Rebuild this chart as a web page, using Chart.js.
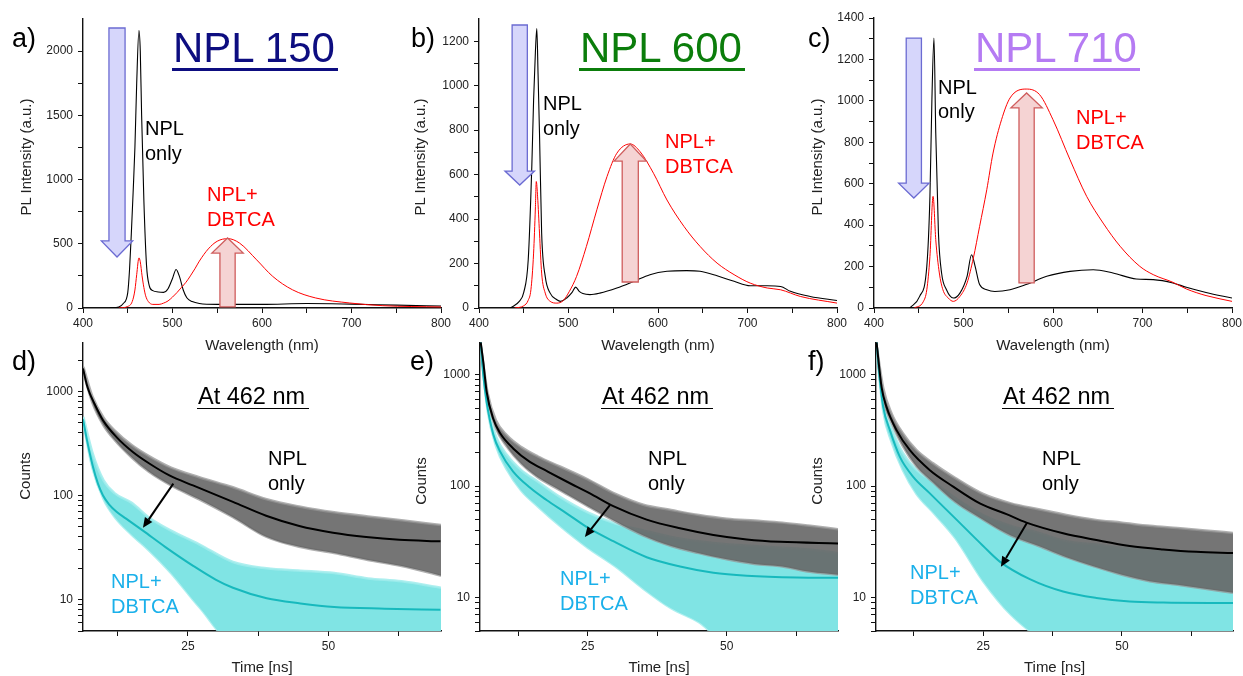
<!DOCTYPE html>
<html>
<head>
<meta charset="utf-8">
<title>NPL / DBTCA photoluminescence</title>
<script src="https://cdn.jsdelivr.net/npm/chart.js@4.4.1/dist/chart.umd.min.js"></script>
<style>
  html, body { margin: 0; padding: 0; background: #fff; }
  body { width: 1243px; height: 676px; position: relative; overflow: hidden;
         font-family: "Liberation Sans", Arial, sans-serif; }
  canvas { position: absolute; }
  .txt { position: absolute; white-space: nowrap; line-height: 1; }
  .vtxt { position: absolute; white-space: nowrap; line-height: 1; font-size: 15px; color: #222;
          transform: translate(-50%, -50%) rotate(-90deg); }
  .rule { position: absolute; }
</style>
</head>
<body>
<script>
// --- PL spectra (wavelength nm / intensity a.u.) ---
const aNplWl = [430, 440, 445, 450, 452, 454, 456, 458, 460, 462.5, 464, 465.5, 468, 471, 474, 478, 484, 490, 495, 500, 504, 508, 512, 516, 522, 530, 550, 600, 650, 700, 750, 800];
const aNplPl = [0, 8, 35, 120, 300, 580, 900, 1250, 1750, 2160, 2000, 1500, 840, 330, 175, 135, 125, 122, 150, 230, 300, 240, 140, 80, 50, 35, 28, 28, 35, 30, 22, 15];
const aMixWl = [440, 450, 455, 458, 460, 462.5, 464, 466, 468, 470, 473, 478, 485, 490, 495, 500, 505, 510, 515, 520, 525, 530, 540, 550, 562, 575, 594, 612, 634, 660, 698, 735, 800];
const aMixPl = [0, 12, 50, 140, 260, 390, 360, 250, 160, 95, 50, 28, 28, 38, 55, 85, 120, 160, 200, 250, 305, 365, 460, 520, 540, 505, 375, 246, 142, 78, 39, 18, 8];

const bNplWl = [435, 445, 450, 455, 459, 461, 463, 464.6, 466, 467.6, 470, 474, 479.5, 487, 491, 498, 504, 508, 512, 516, 524, 535, 554, 573, 591, 610, 632, 647, 666, 685, 703, 722, 737, 748, 770, 800];
const bNplPl = [0, 30, 70, 217, 636, 935, 1150, 1257, 1050, 786, 337, 142, 67, 37, 30, 45, 70, 94, 75, 65, 60, 67, 90, 120, 150, 165, 168, 165, 145, 120, 100, 100, 97, 75, 52, 34];
const bMixWl = [440, 450, 455, 458, 461, 463, 464, 465.5, 467.6, 470, 474, 479.5, 487, 494, 501, 509, 520, 531.7, 543, 554, 569, 580, 595, 610, 629, 647, 666, 685, 703, 722, 737, 759, 800];
const bMixPl = [0, 10, 35, 82, 247, 450, 569, 500, 337, 157, 67, 30, 22, 33, 75, 142, 277, 442, 591, 696, 738, 703, 606, 486, 367, 277, 202, 150, 112, 90, 82, 52, 22];

const cNplWl = [440, 451, 459, 462.5, 464.7, 467, 469, 472, 475.5, 481, 488.6, 496, 504, 509, 513, 518, 526, 535, 552, 570, 593, 619, 645, 667, 693, 712, 734, 749, 771, 800];
const cNplPl = [0, 56, 201, 539, 1006, 1303, 845, 362, 169, 88, 48, 72, 153, 257, 201, 113, 88, 80, 88, 113, 153, 177, 185, 169, 140, 137, 121, 100, 75, 48];
const cMixWl = [445, 455, 459, 462.5, 466, 469, 473, 477, 483, 488.6, 496, 504, 511, 518, 526, 533, 542.5, 552, 570, 585, 600, 619, 637.6, 656, 675, 697, 712, 734, 749, 771, 800];
const cMixPl = [0, 30, 88, 249, 539, 330, 169, 88, 48, 32, 56, 121, 241, 394, 571, 748, 909, 1014, 1057, 1030, 909, 716, 539, 410, 298, 201, 161, 124, 92, 60, 32];

// --- decay traces at 462 nm (time ns / counts): fits plus noise envelope ---
const dNplT = [6.34, 7.05, 7.5, 8.1, 9.9, 12.3, 15.2, 18.2, 21.7, 25.9, 33.0, 38.9, 44.8, 50.8, 56.7, 62.6, 69.9];
const dNplFit = [1660, 1140, 970, 820, 527, 364, 262, 202, 156, 125, 87, 64, 51, 44, 40, 37.6, 36.3];
const dMixT = [6.34, 7.0, 8.1, 9.0, 9.9, 11.0, 12.3, 14.0, 17.0, 21.0, 26.0, 30.0, 33.0, 39.0, 45.0, 51.0, 60.0, 69.9];
const dMixFit = [540, 350, 190, 130, 100, 82, 70, 60, 46, 32, 21, 15.5, 13, 10.3, 9.2, 8.5, 8.2, 8.0];
const dBandT = [6.4, 8, 10, 12, 15, 18, 22, 27, 33, 39, 45, 51, 57, 63, 70];
const dNplHi = [1720, 900, 560, 420, 305, 240, 185, 150, 120, 92, 78, 69, 63, 58, 52];
const dNplLo = [1520, 780, 470, 340, 232, 170, 125, 92, 62, 40, 32, 28, 24, 21, 17];
const dMixHi = [570, 260, 140, 105, 85, 62, 46, 34, 23, 20, 19, 18, 16, 15, 13];
const dMixLo = [490, 185, 92, 62, 42, 30, 18, 8.5, 4, 4, 4, 4, 4, 4, 4];

const eNplT = [5.76, 6.24, 6.84, 8.04, 9.24, 11.6, 14.6, 17.6, 21.2, 25.4, 29.6, 35.6, 41.6, 47.6, 53.6, 59.6, 70];
const eNplFit = [1960, 1290, 700, 400, 300, 218, 165, 137, 110, 86, 66, 50, 41.8, 36.4, 33.2, 31.6, 30.6];
const eMixT = [5.76, 6.24, 6.84, 8.04, 9.24, 11.6, 14.6, 17.6, 21.2, 24.8, 29.6, 35.6, 41.6, 47.6, 53.6, 62.6, 70];
const eMixFit = [1960, 980, 565, 290, 205, 135, 97, 75, 57, 43, 32, 23, 19, 16.7, 15.7, 15.1, 15];
const eBandT = [5.7, 7, 8.5, 10.5, 13, 16, 20, 25, 30, 35, 40, 45, 50, 55, 60, 65, 70];
const eNplHi = [2000, 690, 390, 285, 225, 185, 150, 115, 85, 68, 61, 55, 51, 49, 47, 44, 41];
const eNplLo = [1900, 610, 330, 225, 160, 120, 92, 66, 48, 36, 29, 25, 22, 20, 19, 17, 16];
const eMixHi = [2000, 540, 280, 190, 140, 110, 80, 58, 46, 40, 35, 32, 30, 29, 28, 27, 25];
const eMixLo = [1900, 480, 230, 140, 92, 66, 44, 28, 19, 12, 8, 6, 4, 4, 4, 4, 4];

const fNplT = [5.8, 6.7, 7.6, 9.4, 11.8, 15.4, 19.6, 24.4, 29.2, 32.8, 39.4, 45.4, 51.4, 57.4, 63.4, 70];
const fNplFit = [1960, 775, 513, 318, 210, 139, 99, 70, 56, 47, 37.7, 32.8, 29, 27, 25.7, 25.1];
const fMixT = [5.8, 6.4, 7.0, 8.2, 10.0, 12.4, 15.4, 20.2, 25.0, 28.0, 33.4, 39.4, 45.4, 51.4, 57.4, 70];
const fMixFit = [1960, 890, 513, 318, 183, 121, 86, 50, 29, 21, 14.6, 11.3, 9.9, 9.2, 9.0, 8.9];
const fBandT = [5.7, 7, 8.5, 10.5, 13, 16, 20, 25, 30, 35, 40, 45, 50, 55, 60, 65, 70];
const fNplHi = [2000, 760, 450, 300, 210, 160, 118, 85, 70, 62, 55, 50, 47, 44, 42, 40, 38];
const fNplLo = [1900, 610, 370, 230, 150, 108, 72, 50, 36, 29, 23, 19, 16, 14, 13, 12, 11];
const fMixHi = [2000, 560, 330, 200, 140, 110, 78, 55, 44, 38, 32, 30, 28, 27, 26, 25, 24];
const fMixLo = [1900, 470, 250, 140, 85, 58, 34, 14, 7, 4.5, 4, 4, 4, 4, 4, 4, 4];

// --- ticks ---
const wlTicks = [400, 450, 500, 550, 600, 650, 700, 750, 800];
const wlLabels = [400, 500, 600, 700, 800];
const plTicksA = [0, 250, 500, 750, 1000, 1250, 1500, 1750, 2000];
const plLabelsA = [0, 500, 1000, 1500, 2000];
const plTicksB = [0, 100, 200, 300, 400, 500, 600, 700, 800, 900, 1000, 1100, 1200];
const plLabelsB = [0, 200, 400, 600, 800, 1000, 1200];
const plTicksC = [0, 100, 200, 300, 400, 500, 600, 700, 800, 900, 1000, 1100, 1200, 1300, 1400];
const plLabelsC = [0, 200, 400, 600, 800, 1000, 1200, 1400];
const timeTicks = [12.5, 25, 37.5, 50, 62.5];
const timeLabels = [25, 50];
const countTicks = [5, 6, 7, 8, 9, 10, 20, 30, 40, 50, 60, 70, 80, 90, 100, 200, 300, 400, 500, 600, 700, 800, 900, 1000, 2000];
const countLabels = [10, 100, 1000];

Chart.defaults.font.family = '"Liberation Sans", Arial, sans-serif';

const AXIS_W = 72;
const RIGHT_PAD = 24;
const INK = '#111';

const pts = (xs, ys) => xs.map((x, i) => ({ x, y: ys[i] }));

function curve(xs, ys, color, width) {
    return { data: pts(xs, ys), borderColor: color, borderWidth: width, fill: false,
             pointRadius: 0, cubicInterpolationMode: 'monotone' };
}

// noise envelope: filled to the next dataset, soft edge drawn as a wide light stroke
function bandTop(xs, ys, color, edge) {
    return { data: pts(xs, ys), borderWidth: 2.5, borderColor: edge, pointRadius: 0, fill: '+1',
             backgroundColor: color, cubicInterpolationMode: 'monotone' };
}

function bandBottom(xs, ys, edge) {
    return { data: pts(xs, ys), borderWidth: 2.5, borderColor: edge, pointRadius: 0, fill: false,
             cubicInterpolationMode: 'monotone' };
}

// --- annotation arrows, placed in data units ---
function blockArrows(items) {
    return {
        id: 'blockArrows',
        afterDatasetsDraw(chart) {
            const { ctx, scales: { x, y } } = chart;
            items.forEach(a => {
                const outline = [
                    [a.x - a.shaft, a.tail], [a.x + a.shaft, a.tail], [a.x + a.shaft, a.neck],
                    [a.x + a.head, a.neck], [a.x, a.tip], [a.x - a.head, a.neck], [a.x - a.shaft, a.neck]
                ];
                ctx.save();
                ctx.beginPath();
                outline.forEach(([vx, vy], i) => {
                    const px = x.getPixelForValue(vx), py = y.getPixelForValue(vy);
                    i ? ctx.lineTo(px, py) : ctx.moveTo(px, py);
                });
                ctx.closePath();
                ctx.fillStyle = a.fill;
                ctx.fill();
                ctx.lineWidth = 1.3;
                ctx.strokeStyle = a.stroke;
                ctx.stroke();
                ctx.restore();
            });
        }
    };
}

function lineArrow(from, to) {
    return {
        id: 'lineArrow',
        afterDatasetsDraw(chart) {
            const { ctx, scales: { x, y } } = chart;
            const x0 = x.getPixelForValue(from[0]), y0 = y.getPixelForValue(from[1]);
            const x1 = x.getPixelForValue(to[0]), y1 = y.getPixelForValue(to[1]);
            const ang = Math.atan2(y1 - y0, x1 - x0);
            const len = 10, half = 4.5;
            const bx = x1 - len * Math.cos(ang), by = y1 - len * Math.sin(ang);
            ctx.save();
            ctx.strokeStyle = '#000';
            ctx.fillStyle = '#000';
            ctx.lineWidth = 2;
            ctx.beginPath();
            ctx.moveTo(x0, y0);
            ctx.lineTo(bx, by);
            ctx.stroke();
            ctx.beginPath();
            ctx.moveTo(x1, y1);
            ctx.lineTo(bx - half * Math.sin(ang), by + half * Math.cos(ang));
            ctx.lineTo(bx + half * Math.sin(ang), by - half * Math.cos(ang));
            ctx.closePath();
            ctx.fill();
            ctx.restore();
        }
    };
}

function addCanvas(left, top, width, height) {
    const c = document.createElement('canvas');
    c.width = width;
    c.height = height;
    c.style.left = left + 'px';
    c.style.top = top + 'px';
    c.style.width = width + 'px';
    c.style.height = height + 'px';
    document.body.appendChild(c);
    return c;
}

function axis(p, which) {
    const isX = which === 'x';
    const min = isX ? p.xMin : p.yMin, max = isX ? p.xMax : p.yMax;
    const ticks = (isX ? p.xTicks : p.yTicks).filter(v => v >= min && v <= max);
    const labels = isX ? p.xLabels : p.yLabels;
    const cfg = {
        type: isX ? 'linear' : (p.yType || 'linear'),
        min, max,
        afterBuildTicks: s => { s.ticks = ticks.map(v => ({ value: v })); },
        ticks: {
            autoSkip: false, maxRotation: 0, padding: isX ? 3 : 5,
            color: '#222', font: { size: 12 },
            callback: v => labels.includes(v) ? String(v) : ''
        },
        grid: { drawOnChartArea: false, tickLength: 5, color: INK, tickWidth: 1 },
        border: { color: INK, width: 1.4 }
    };
    if (isX) {
        cfg.afterFit = s => { s.height = p.canvasBottom - p.bottom; };
        cfg.title = { display: true, text: p.xTitle, color: '#222', font: { size: 15 },
                      padding: { top: 0, bottom: p.titlePad } };
    } else {
        cfg.afterFit = s => { s.width = AXIS_W; };
    }
    return cfg;
}

function drawPanel(p) {
    const canvas = addCanvas(p.left - AXIS_W, p.canvasTop,
        p.right - p.left + AXIS_W + RIGHT_PAD, p.canvasBottom - p.canvasTop);
    return new Chart(canvas, {
        type: 'line',
        data: { datasets: p.datasets },
        options: {
            responsive: false,
            animation: false,
            devicePixelRatio: 1,
            layout: { autoPadding: false,
                      padding: { left: 0, right: RIGHT_PAD, top: p.top - p.canvasTop, bottom: 0 } },
            plugins: { legend: { display: false }, tooltip: { enabled: false } },
            scales: { x: axis(p, 'x'), y: axis(p, 'y') }
        },
        plugins: p.plugins
    });
}

// --- top row: PL spectra ---
const BLUE_FILL = '#d6d6fb', BLUE_EDGE = '#6b6bd2';
const PINK_FILL = '#f5d3d3', PINK_EDGE = '#cf5d5d';

const spectrum = {
    xMin: 400, xMax: 800, xTicks: wlTicks, xLabels: wlLabels, xTitle: 'Wavelength (nm)',
    canvasTop: 0, canvasBottom: 360, bottom: 308, titlePad: 5
};

drawPanel({ ...spectrum, left: 83, right: 441, top: 19,
    yMin: 0, yMax: 2250, yTicks: plTicksA, yLabels: plLabelsA,
    datasets: [curve(aMixWl, aMixPl, '#ff0000', 1), curve(aNplWl, aNplPl, '#000', 1.1)],
    plugins: [blockArrows([
        { x: 438, shaft: 9, head: 17.5, tail: 2180, neck: 522, tip: 397, fill: BLUE_FILL, stroke: BLUE_EDGE },
        { x: 561.5, shaft: 8.5, head: 17.5, tail: 8, neck: 428, tip: 545, fill: PINK_FILL, stroke: PINK_EDGE }
    ])]
});

drawPanel({ ...spectrum, left: 479, right: 837, top: 19,
    yMin: 0, yMax: 1300, yTicks: plTicksB, yLabels: plLabelsB,
    datasets: [curve(bMixWl, bMixPl, '#ff0000', 1), curve(bNplWl, bNplPl, '#000', 1.1)],
    plugins: [blockArrows([
        { x: 445.5, shaft: 8.5, head: 16.5, tail: 1273, neck: 616, tip: 553, fill: BLUE_FILL, stroke: BLUE_EDGE },
        { x: 569, shaft: 9, head: 18, tail: 117, neck: 661, tip: 738, fill: PINK_FILL, stroke: PINK_EDGE }
    ])]
});

drawPanel({ ...spectrum, left: 874, right: 1232, top: 18,
    yMin: 0, yMax: 1400, yTicks: plTicksC, yLabels: plLabelsC,
    datasets: [curve(cMixWl, cMixPl, '#ff0000', 1), curve(cNplWl, cNplPl, '#000', 1.1)],
    plugins: [blockArrows([
        { x: 444.5, shaft: 8.5, head: 17, tail: 1303, neck: 603, tip: 531, fill: BLUE_FILL, stroke: BLUE_EDGE },
        { x: 570.5, shaft: 8.5, head: 17.5, tail: 121, neck: 966, tip: 1038, fill: PINK_FILL, stroke: PINK_EDGE }
    ])]
});

// --- bottom row: decays ---
const GRAY_BAND = 'rgba(102, 102, 102, 0.9)', GRAY_EDGE = 'rgba(150, 150, 150, 0.75)';
const CYAN_BAND = 'rgb(128, 228, 228)', CYAN_EDGE = 'rgba(160, 236, 236, 0.85)';
const CYAN_FIT = '#17b9bd';

const decay = {
    xTicks: timeTicks, xLabels: timeLabels, xTitle: 'Time [ns]', xMax: 70,
    yType: 'logarithmic', yMin: 5, yTicks: countTicks, yLabels: countLabels,
    canvasTop: 330, canvasBottom: 680, top: 342, bottom: 631, titlePad: 3
};

function decaySets(bandT, nplHi, nplLo, mixHi, mixLo, nplT, nplFit, mixT, mixFit) {
    return [
        curve(nplT, nplFit, '#000', 2),
        curve(mixT, mixFit, CYAN_FIT, 2),
        bandTop(bandT, nplHi, GRAY_BAND, GRAY_EDGE),
        bandBottom(bandT, nplLo, GRAY_EDGE),
        bandTop(bandT, mixHi, CYAN_BAND, CYAN_EDGE),
        bandBottom(bandT, mixLo, CYAN_EDGE)
    ];
}

drawPanel({ ...decay, left: 83, right: 441, xMin: 6.34, yMax: 2970,
    datasets: decaySets(dBandT, dNplHi, dNplLo, dMixHi, dMixLo, dNplT, dNplFit, dMixT, dMixFit),
    plugins: [lineArrow([22.4, 130], [17.0, 49])]
});

drawPanel({ ...decay, left: 480, right: 838, xMin: 5.64, yMax: 1960,
    datasets: decaySets(eBandT, eNplHi, eNplLo, eMixHi, eMixLo, eNplT, eNplFit, eMixT, eMixFit),
    plugins: [lineArrow([29.0, 67.6], [24.5, 35])]
});

drawPanel({ ...decay, left: 876, right: 1233, xMin: 5.7, yMax: 1960,
    datasets: decaySets(fBandT, fNplHi, fNplLo, fMixHi, fMixLo, fNplT, fNplFit, fMixT, fMixFit),
    plugins: [lineArrow([32.9, 46.8], [28.2, 18.9])]
});

// --- text: placed by baseline ---
function put(text, x, base, size, color) {
    const el = document.createElement('div');
    el.className = 'txt';
    el.textContent = text;
    el.style.left = x + 'px';
    el.style.top = (base - 0.847 * size) + 'px';
    el.style.fontSize = size + 'px';
    el.style.color = color;
    document.body.appendChild(el);
}

function rule(x1, x2, y, h, color) {
    const el = document.createElement('div');
    el.className = 'rule';
    Object.assign(el.style, { left: x1 + 'px', top: y + 'px', width: (x2 - x1) + 'px',
                              height: h + 'px', background: color });
    document.body.appendChild(el);
}

function vput(text, cx, cy) {
    const el = document.createElement('div');
    el.className = 'vtxt';
    el.textContent = text;
    el.style.left = cx + 'px';
    el.style.top = cy + 'px';
    document.body.appendChild(el);
}

vput('PL Intensity (a.u.)', 25, 157);
vput('PL Intensity (a.u.)', 419, 157);
vput('PL Intensity (a.u.)', 816, 157);
vput('Counts', 24, 476);
vput('Counts', 420, 481);
vput('Counts', 816, 481);

[['a)', 12, 48], ['b)', 411, 48], ['c)', 808, 48],
 ['d)', 12, 371], ['e)', 410, 371], ['f)', 808, 371]].forEach(([t, x, b]) => put(t, x, b, 27, '#000'));

const titles = [['NPL 150', 173, '#0d0d80'], ['NPL 600', 580, '#0b7d0b'], ['NPL 710', 975, '#b57bf3']];
titles.forEach(([t, x, col]) => {
    put(t, x, 62.7, 42, col);
    rule(x - 1, x + 165, 68.3, 2.5, col);
});

// spectra labels
[[145, 135, 160], [543, 110, 135], [938, 93.7, 118.3]].forEach(([x, b1, b2]) => {
    put('NPL', x, b1, 20, '#000');
    put('only', x, b2, 20, '#000');
});
[[207, 201, 226], [665, 147.7, 172.7], [1076, 124, 149]].forEach(([x, b1, b2]) => {
    put('NPL+', x, b1, 20, '#ff0000');
    put('DBTCA', x, b2, 20, '#ff0000');
});

// decay labels
[198, 602, 1003].forEach(x => {
    put('At 462 nm', x, 405, 23.5, '#000');
    rule(x - 1, x + 111, 407.8, 1.6, '#000');
});
[268, 648, 1042].forEach(x => {
    put('NPL', x, 465, 20, '#000');
    put('only', x, 489.5, 20, '#000');
});
[[111, 588, 613], [560, 585, 610], [910, 579, 604]].forEach(([x, b1, b2]) => {
    put('NPL+', x, b1, 20, '#1ab0ea');
    put('DBTCA', x, b2, 20, '#1ab0ea');
});
</script>
</body>
</html>
